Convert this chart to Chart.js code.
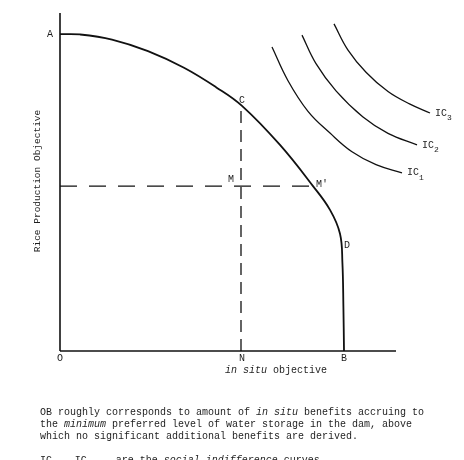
<!DOCTYPE html>
<html>
<head>
<meta charset="utf-8">
<script src="https://cdn.jsdelivr.net/npm/chart.js@4"></script>
<style>
  body { margin: 0; background: #fff; }
  #wrap { position: relative; width: 464px; height: 460px; overflow: hidden; }
  #box { position: absolute; left: 0; top: 0; width: 464px; height: 460px; }
  #notes { position: absolute; left: 40px; top: 407px; font: 10px "Liberation Mono", monospace; line-height: 12px; color: #1e1e1e; white-space: pre; }
  #notes sub { font-size: 8px; line-height: 0; vertical-align: -3px; }
</style>
</head>
<body>
<div id="wrap">
  <div id="box"><canvas id="chart"></canvas></div>
  <div id="notes">OB roughly corresponds to amount of <i>in situ</i> benefits accruing to
the <i>minimum</i> preferred level of water storage in the dam, above
which no significant additional benefits are derived.

IC<sub>1</sub> - IC<sub>n</sub>    are the <i>social indifference</i> curves.</div>
</div>
<script>
// production possibility frontier A -> C -> M' -> D -> B
const frontierX = [0, 5, 13, 22, 31, 39, 45.5, 55, 63.25, 67.5, 70, 70.6, 70.85, 71];
const frontierY = [93.2, 93.1, 91.6, 88.2, 83.3, 77.6, 72.1, 60.6, 48.5, 41.5, 34.5, 26, 13, 0];

// social indifference curves
const ic1X = [53, 57, 62, 67.5, 73, 79, 85.5];
const ic1Y = [89.4, 79.5, 70.5, 64.1, 58.6, 54.8, 52.4];
const ic2X = [60.5, 64, 69, 75.75, 82, 89.25];
const ic2Y = [92.9, 84.5, 76.5, 68.8, 64, 60.6];
const ic3X = [68.5, 72, 76.5, 82, 87.5, 92.5];
const ic3Y = [96.2, 88.5, 82, 76.3, 72.6, 70];
const icNames = ['1', '2', '3'];

// axes ends
const xAxisEnd = 84;
const yAxisEnd = 99.4;

// N / M' guide lines
const nX = 45.25;
const cY = 72.1;
const mY = 48.5;
const mPrimeX = 63.25;

// point letters
const pointLabels = ['A', 'C', 'M', "M'", 'D', 'O', 'N', 'B'];
const pointLabelX = [0, nX, nX, mPrimeX, 70.25, 0, nX, 71];
const pointLabelY = [93.2, cY, mY, mY, 31.2, 0, 0, 0];

const labelOffsets = [
    { dx: -10, dy: 0, align: 'center' },
    { dx: 1, dy: -6, align: 'center' },
    { dx: -10, dy: -7, align: 'center' },
    { dx: 3, dy: -2, align: 'left' },
    { dx: 3, dy: 0, align: 'left' },
    { dx: 0, dy: 7, align: 'center' },
    { dx: 1, dy: 7, align: 'center' },
    { dx: 0, dy: 7, align: 'center' },
];

const toPts = (xs, ys) => xs.map((v, i) => ({ x: v, y: ys[i] }));
const INK = '#111';
const MONO = '"Liberation Mono", "DejaVu Sans Mono", monospace';

const curve = (xs, ys, w) => ({
    data: toPts(xs, ys),
    borderColor: INK,
    borderWidth: w,
    showLine: true,
    tension: 0.4,
    pointRadius: 0,
    clip: false,
});
const straight = (xs, ys, w, dash) => ({
    data: toPts(xs, ys),
    borderColor: INK,
    borderWidth: w,
    borderDash: dash || [],
    showLine: true,
    tension: 0,
    pointRadius: 0,
    clip: false,
});

const annotate = {
    id: 'annotate',
    afterDatasetsDraw(chart) {
        const { ctx, scales: { x, y } } = chart;
        ctx.save();
        ctx.fillStyle = '#1e1e1e';
        ctx.textBaseline = 'middle';
        ctx.font = `10px ${MONO}`;

        pointLabels.forEach((t, i) => {
            const o = labelOffsets[i];
            ctx.textAlign = o.align;
            ctx.fillText(t, x.getPixelForValue(pointLabelX[i]) + o.dx, y.getPixelForValue(pointLabelY[i]) + o.dy);
        });

        // IC labels at end of each curve
        [[ic1X, ic1Y], [ic2X, ic2Y], [ic3X, ic3Y]].forEach(([xs, ys], i) => {
            const px = x.getPixelForValue(xs[xs.length - 1]) + 5;
            const py = y.getPixelForValue(ys[ys.length - 1]);
            ctx.textAlign = 'left';
            ctx.font = `10px ${MONO}`;
            ctx.fillText('IC', px, py);
            ctx.font = `8px ${MONO}`;
            ctx.fillText(icNames[i], px + 12, py + 5);
        });

        // y title
        ctx.save();
        ctx.font = `9.5px ${MONO}`;
        ctx.textAlign = 'center';
        ctx.translate(x.getPixelForValue(0) - 23, y.getPixelForValue(50));
        ctx.rotate(-Math.PI / 2);
        ctx.fillText('Rice Production Objective', 0, 0);
        ctx.restore();

        // x title, "in situ" italic
        const tx = x.getPixelForValue(41.25);
        const ty = y.getPixelForValue(0) + 19;
        ctx.textAlign = 'left';
        ctx.font = `italic 10px ${MONO}`;
        ctx.fillText('in situ', tx, ty);
        const w = ctx.measureText('in situ ').width;
        ctx.font = `10px ${MONO}`;
        ctx.fillText('objective', tx + w, ty);
        ctx.restore();
    },
};

new Chart(document.getElementById('chart'), {
    type: 'scatter',
    data: {
        datasets: [
            straight([0, 0], [0, yAxisEnd], 1.6),
            straight([0, xAxisEnd], [0, 0], 1.6),
            straight([nX, nX], [0, cY], 1.3, [12, 7]),
            straight([0, mPrimeX], [mY, mY], 1.3, [17, 12]),
            curve(frontierX, frontierY, 1.8),
            curve(ic1X, ic1Y, 1.3),
            curve(ic2X, ic2Y, 1.3),
            curve(ic3X, ic3Y, 1.3),
        ],
    },
    options: {
        responsive: true,
        maintainAspectRatio: false,
        animation: false,
        events: [],
        layout: { padding: { left: 60, right: 4, top: 11, bottom: 109 } },
        plugins: { legend: { display: false }, tooltip: { enabled: false } },
        scales: {
            x: { type: 'linear', display: false, min: 0, max: 100 },
            y: { type: 'linear', display: false, min: 0, max: 100 },
        },
    },
    plugins: [annotate],
});
</script>
</body>
</html>
